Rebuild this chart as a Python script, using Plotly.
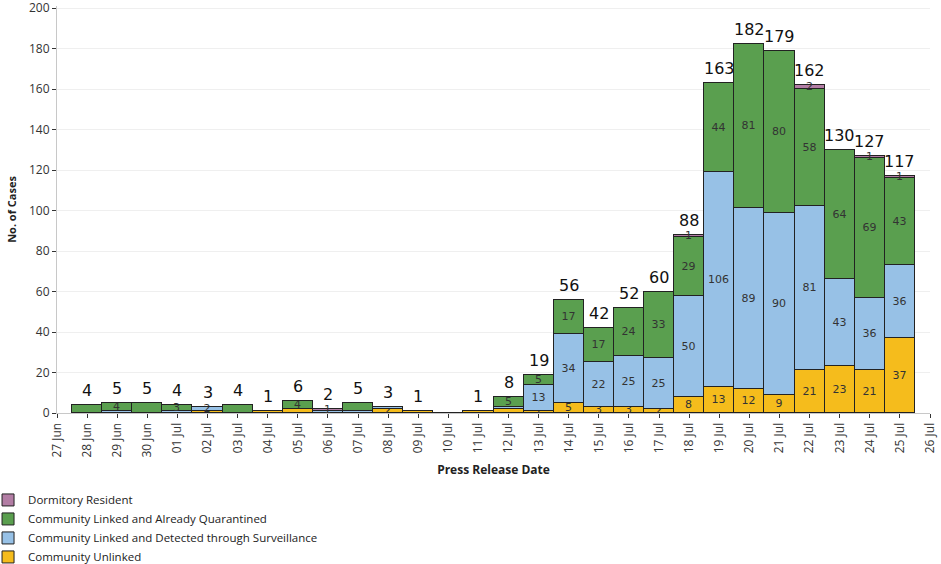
import plotly.graph_objects as go

dates = ["2020-06-28", "2020-06-29", "2020-06-30", "2020-07-01", "2020-07-02", "2020-07-03",
         "2020-07-04", "2020-07-05", "2020-07-06", "2020-07-07", "2020-07-08", "2020-07-09",
         "2020-07-10", "2020-07-11", "2020-07-12", "2020-07-13", "2020-07-14", "2020-07-15",
         "2020-07-16", "2020-07-17", "2020-07-18", "2020-07-19", "2020-07-20", "2020-07-21",
         "2020-07-22", "2020-07-23", "2020-07-24", "2020-07-25"]

unlinked = [0, 0, 0, 0, 1, 0, 1, 2, 0, 0, 2, 1, 0, 1, 2, 1, 5, 3, 3, 2, 8, 13, 12, 9, 21, 23, 21, 37]
surveillance = [0, 1, 0, 1, 2, 0, 0, 0, 1, 1, 1, 0, 0, 0, 1, 13, 34, 22, 25, 25, 50, 106, 89, 90, 81, 43, 36, 36]
quarantined = [4, 4, 5, 3, 0, 4, 0, 4, 0, 4, 0, 0, 0, 0, 5, 5, 17, 17, 24, 33, 29, 44, 81, 80, 58, 64, 69, 43]
dormitory = [0, 0, 0, 0, 0, 0, 0, 0, 1, 0, 0, 0, 0, 0, 0, 0, 0, 0, 0, 0, 1, 0, 0, 0, 2, 0, 1, 1]

# dates on which Tableau showed an inner label for each segment
late = dates[16:]
show_unlinked = ["2020-07-08", "2020-07-13"] + late
show_surveillance = ["2020-07-02", "2020-07-13"] + late
show_quarantined = ["2020-06-29", "2020-07-01", "2020-07-05", "2020-07-12", "2020-07-13"] + late
show_dormitory = ["2020-07-06", "2020-07-18", "2020-07-22", "2020-07-24", "2020-07-25"]

series = [
    ("Community Unlinked", unlinked, show_unlinked, "#F5BC1C"),
    ("Community Linked and Detected through Surveillance", surveillance, show_surveillance, "#97C1E6"),
    ("Community Linked and Already Quarantined", quarantined, show_quarantined, "#5A9F4F"),
    ("Dormitory Resident", dormitory, show_dormitory, "#B27DA4"),
]

FONT = "Open Sans"
fig = go.Figure()
for name, vals, shown, color in series:
    txt = [str(v) if (d in shown and v > 0) else "" for d, v in zip(dates, vals)]
    fig.add_trace(go.Bar(
        x=dates, y=vals, name=name, text=txt,
        textposition="inside", insidetextanchor="middle", textangle=0,
        textfont=dict(size=11, color="#333333", family="DejaVu Sans"),
        marker=dict(color=color, line=dict(color="#222222", width=1)),
        width=86400000, hoverinfo="skip",
    ))

totals = [a + b + c + d for a, b, c, d in zip(unlinked, surveillance, quarantined, dormitory)]
for d, t in zip(dates, totals):
    if t > 0:
        fig.add_annotation(
            x=d, y=t, text=str(t), showarrow=False, yanchor="bottom", yshift=3,
            font=dict(size=16, color="#111111", family="DejaVu Sans"),
        )

fig.update_layout(
    width=941, height=564,
    margin=dict(l=57, r=11, t=6, b=151, autoexpand=False),
    barmode="stack", bargap=0,
    plot_bgcolor="white", paper_bgcolor="white",
    font=dict(family=FONT, size=12, color="#333333"),
    uniformtext=dict(minsize=11, mode="show"),
    showlegend=True,
    legend=dict(
        traceorder="reversed", orientation="v",
        xref="paper", yref="paper", x=-0.079, y=-0.178,
        xanchor="left", yanchor="top",
        font=dict(size=11.5, color="#222222", family=FONT),
        tracegroupgap=0, itemwidth=30, bgcolor="rgba(0,0,0,0)",
    ),
    xaxis=dict(
        type="date", range=["2020-06-27", "2020-07-26"],
        dtick=86400000, tickformat="%d %b", tickangle=-90,
        ticks="outside", ticklen=4, tickcolor="#333333",
        showline=True, linecolor="#c8c8c8", showgrid=False,
        tickfont=dict(size=12, color="#333333"),
        ticklabeloverflow="allow",
        title=dict(text="<b>Press Release Date</b>", font=dict(size=12, color="#222222"), standoff=9),
    ),
    yaxis=dict(
        range=[0, 201], dtick=20, ticks="outside", ticklen=4, tickcolor="#333333",
        showline=True, linecolor="#c8c8c8", showgrid=True, gridcolor="#efefef",
        zeroline=False, tickfont=dict(size=12, color="#333333"),
        ticklabeloverflow="allow",
        title=dict(text="<b>No. of Cases</b>", font=dict(size=11, color="#222222"), standoff=10),
    ),
)

fig.write_html("out.html", config={"displayModeBar": False},
               post_script="document.body.style.margin='0';")
